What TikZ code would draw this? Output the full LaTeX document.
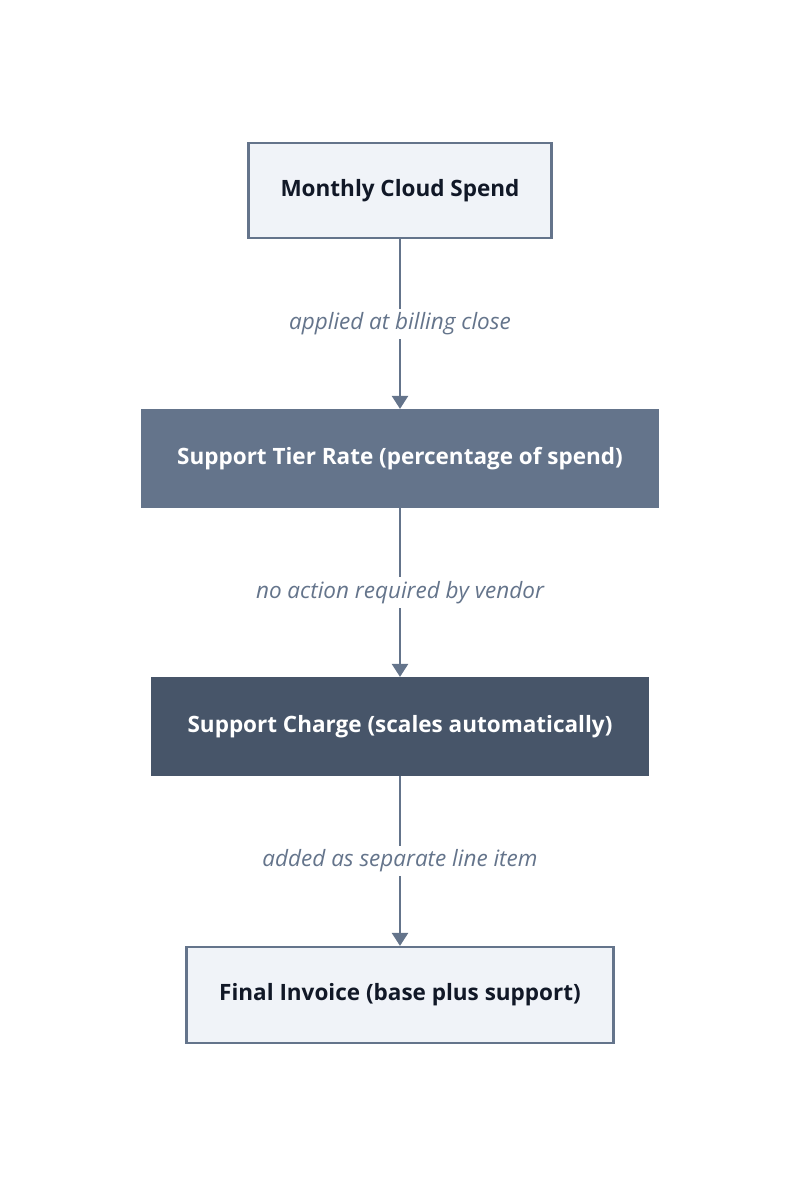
\documentclass[tikz,border=0pt]{standalone}
\usepackage{fontspec}
\setmainfont{Open Sans}
\usepackage{tikz}
\usetikzlibrary{arrows.meta,shapes,calc}
\definecolor{slateA}{HTML}{64748B}
\definecolor{slateB}{HTML}{475569}
\definecolor{paleBox}{HTML}{F0F3F8}
\definecolor{inkDark}{HTML}{111827}
\tikzstyle{lightBox}=[rectangle, draw=slateA, fill=paleBox, line width=2.2pt, inner sep=0pt, text=inkDark, font=\bfseries\fontsize{22.5}{26}\selectfont]
\tikzstyle{darkBox}=[rectangle, line width=2.2pt, inner sep=0pt, text=white, font=\bfseries\fontsize{22.5}{26}\selectfont]
\tikzstyle{flow}=[draw=slateA, line width=2.4pt, -{Triangle[width=16pt,length=13pt]}]
\tikzstyle{note}=[fill=white, inner sep=4pt, text=slateA, font=\itshape\fontsize{22.5}{26}\selectfont]

\begin{document}
\begin{tikzpicture}[x=1pt, y=-1pt]
        \useasboundingbox (0,0) rectangle (800,1186);
        \node(spend) [lightBox, minimum width=303pt, minimum height=95pt] at (400, 190.5){Monthly Cloud Spend};
        \node(rate) [darkBox, draw=slateA, fill=slateA, minimum width=516pt, minimum height=97pt] at (400, 458.5){Support Tier Rate (percentage of spend)};
        \node(charge) [darkBox, draw=slateB, fill=slateB, minimum width=495pt, minimum height=97pt] at (400, 726.5){Support Charge (scales automatically)};
        \node(invoice) [lightBox, minimum width=427pt, minimum height=96pt] at (400, 995){Final Invoice (base plus support)};
        \draw[flow] (spend) to node[note]{applied at billing close} (rate);
        \draw[flow] (rate) to node[note]{no action required by vendor} (charge);
        \draw[flow] (charge) to node[note]{added as separate line item} (invoice);
     \end{tikzpicture}
\end{document}
